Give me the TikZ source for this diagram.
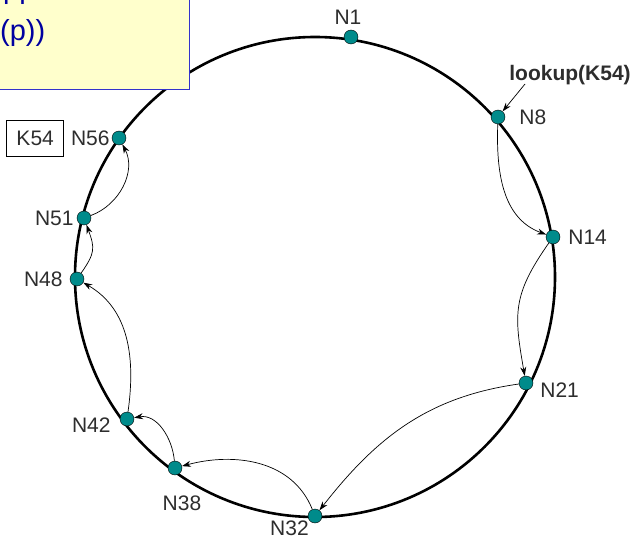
\documentclass[tikz,border=0pt]{standalone}
\usepackage{fontspec}
\setmainfont{Liberation Sans}
\usetikzlibrary{positioning,arrows.meta}
\definecolor{peerteal}{RGB}{0,139,139}
\definecolor{noteyellow}{RGB}{255,255,204}
\definecolor{noteblue}{RGB}{51,51,204}
\definecolor{notetext}{RGB}{0,0,160}
\definecolor{lblgray}{RGB}{45,45,45}

\begin{document}
\begin{tikzpicture}
        [
        x=1pt, y=1pt,
        peer/.style={circle, draw, thin, fill=peerteal, minimum size=14pt, inner sep=0pt},
        lbl/.style={inner sep=0pt, text=lblgray, font=\fontsize{21}{25}\selectfont},
        hop/.style={-{Stealth[length=9pt,width=6pt]}, line width=0.7pt},
        ring/.style={line width=2.6pt},
        notebox/.style={rectangle, draw=noteblue, fill=noteyellow, line width=1.2pt},
        notetxt/.style={inner sep=0pt, text=notetext, font=\fontsize{29}{34}\selectfont}
        ]
        \useasboundingbox (0,0) rectangle (638,-543);

        \draw[ring] (315,-277) circle (240pt);

        \node[peer] (N1) at (351,-37) {};
        \node[peer] (N8) at (498,-117) {};
        \node[peer] (N14) at (553,-237) {};
        \node[peer] (N21) at (526,-383) {};
        \node[peer] (N32) at (315,-516) {};
        \node[peer] (N38) at (175,-468) {};
        \node[peer] (N42) at (127,-419) {};
        \node[peer] (N48) at (77,-279) {};
        \node[peer] (N51) at (84,-218) {};
        \node[peer] (N56) at (119,-138) {};

        \node[lbl, above=5pt of N1, xshift=-3pt] (l1) {N1};
        \node[lbl, right=14pt of N8] (l8) {N8};
        \node[lbl, right=8pt of N14] (l14) {N14};
        \node[lbl, right=7pt of N21, yshift=-7pt] (l21) {N21};
        \node[lbl, below left=0pt and 1pt of N32] (l32) {N32};
        \node[lbl, below=20pt of N38, xshift=7pt] (l38) {N38};
        \node[lbl, left=9pt of N42, yshift=-6pt] (l42) {N42};
        \node[lbl, left=7pt of N48] (l48) {N48};
        \node[lbl, left=3pt of N51] (l51) {N51};
        \node[lbl, left=2pt of N56] (l56) {N56};
        \node[lbl, draw=black, thin, minimum width=57pt, minimum height=36pt, left=7pt of l56] (k54) {K54};

        \node[lbl, font=\fontsize{21}{25}\selectfont\bfseries] (lk) at (570,-75) {lookup(K54)};
        \coordinate (lkfoot) at (525,-84);
        \draw[hop] (lkfoot) -- (N8);

        \draw[hop] (N8) to[out=-92, in=160] (N14);
        \draw[hop] (N14) to[out=-125, in=100, looseness=1.2] (N21);
        \draw[hop] (N21) to[out=188, in=52] (N32);
        \draw[hop] (N32) to[out=112, in=15] (N38);
        \draw[hop] (N38) to[out=95, in=10] (N42);
        \draw[hop] (N42) to[out=82, in=-30] (N48);
        \draw[hop] (N48) to[out=55, in=-70, looseness=1.3] (N51);
        \draw[hop] (N51) to[out=20, in=-62] (N56);

        \node[notebox, anchor=south east, minimum width=230pt, minimum height=130pt] (note) at (190,-90) {};
        \node[notetxt, anchor=base west] (note1) at (3,1) {pp};
        \node[notetxt, anchor=base west] (note2) at (0,-41) {(p))};

    \end{tikzpicture}
\end{document}
